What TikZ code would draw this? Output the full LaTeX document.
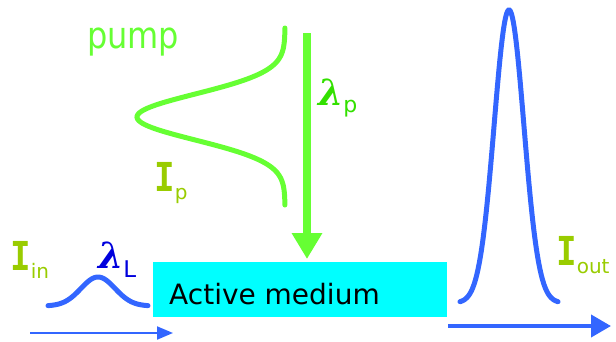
\documentclass[tikz,border=0pt]{standalone}
\usepackage{fontspec}
\setmainfont{DejaVu Sans}
\newfontfamily\monofont{DejaVu Sans Mono}
\newfontfamily\lamfont{DejaVu Serif}
\usetikzlibrary{arrows.meta}
\definecolor{pumpgreen}{HTML}{66FF33}
\definecolor{lamgreen}{HTML}{33E000}
\definecolor{olivec}{HTML}{99CC00}
\definecolor{pulseblue}{HTML}{3366FF}
\definecolor{lamblue}{HTML}{0000DD}
\definecolor{boxcyan}{HTML}{00FFFF}
\tikzset{
  lbl/.style={inner sep=0pt, anchor=base west},
  pumpcurve/.style={draw=pumpgreen, line width=5pt, line cap=round},
  pulse/.style={draw=pulseblue, line width=5pt, line cap=round},
  medbox/.style={fill=boxcyan, draw=none, minimum width=294pt, minimum height=55pt, inner sep=0pt},
}
\newcommand{\subtxt}[2]{\raisebox{#1}{\fontsize{20}{20}\selectfont #2}}
\newcommand{\bigI}{{\monofont\bfseries\fontsize{38}{38}\selectfont\scalebox{0.9}[1.05]{I}}}
\newcommand{\biglam}{{\lamfont\itshape\bfseries\fontsize{36}{36}\selectfont λ}}
\begin{document}
\begin{tikzpicture}[x=1pt,y=-1pt]
\useasboundingbox (0,0) rectangle (616,341);
% active medium
\node[medbox] (medium) at (300,289.5) {};
\node[lbl, font=\fontsize{28}{28}\selectfont] (mtext) at (169,304) {Active medium};
% pump
\node[lbl, text=pumpgreen, font=\fontsize{32}{32}\selectfont] (pump) at (87,48) {\scalebox{1}[1.15]{pump}};
\draw[pumpcurve] plot[domain=28:205, samples=120, smooth] ({285-148*exp(-0.5*((\x-117)/23)*((\x-117)/23))}, \x);
\coordinate (ptop) at (307,33);
\coordinate (ptip) at (307,259);
\draw[draw=pumpgreen, fill=pumpgreen, line width=8pt, -{Triangle[width=29pt,length=26pt]}] (ptop) -- (ptip);
\node[lbl, text=lamgreen] (lamp) at (318,105) {\biglam\subtxt{-7pt}{\fontsize{22}{22}\selectfont p}};
\node[lbl, text=olivec] (Ip) at (154,191) {\bigI\subtxt{-8pt}{p}};
% input pulse
\node[lbl, text=olivec] (Iin) at (10,270) {\bigI\subtxt{-8pt}{in}};
\node[lbl, text=lamblue] (lamL) at (98,268) {\biglam\subtxt{-9pt}{\fontsize{23}{23}\selectfont L}};
\draw[pulse] plot[domain=48:148, samples=80, smooth] (\x, {306-29*exp(-0.5*((\x-98)/17)*((\x-98)/17))});
\coordinate (ina) at (30,333);
\coordinate (inb) at (173,333);
\draw[draw=pulseblue, line width=2pt, -{Triangle[width=13pt,length=16pt]}] (ina) -- (inb);
% output pulse
\draw[pulse] plot[domain=460:558, samples=150, smooth] (\x, {303-293*exp(-0.5*((\x-509)/14.9)*((\x-509)/14.9))});
\coordinate (outa) at (448,326);
\coordinate (outb) at (611,326);
\draw[draw=pulseblue, line width=4pt, -{Triangle[width=22pt,length=20pt]}] (outa) -- (outb);
\node[lbl, text=olivec] (Iout) at (556,265) {\bigI\subtxt{-8pt}{out}};
\end{tikzpicture}
\end{document}
